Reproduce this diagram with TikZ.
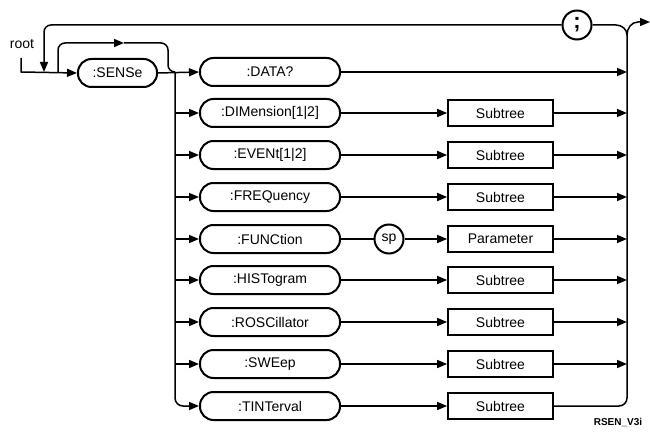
\documentclass[tikz,border=0pt]{standalone}
\usepackage{fontspec}
\setmainfont{Liberation Sans}
\usetikzlibrary{arrows.meta}
\begin{document}
\begin{tikzpicture}[x=1pt,y=-1pt,
  line width=1.5pt,
  txt/.style={font=\fontsize{14}{16}\selectfont},
  pill/.style={draw, line width=2pt, rounded corners=13.5pt, minimum width=140pt, minimum height=28pt, inner sep=0pt, txt},
  box/.style={draw, line width=1.7pt, minimum width=105pt, minimum height=26pt, inner sep=0pt, txt},
  circ/.style={draw, circle, line width=2pt, minimum size=29pt, inner sep=0pt, txt},
  arr/.style={-{Triangle[length=10pt,width=8pt]}},
  ]
\useasboundingbox (0,0) rectangle (650,441);

% labels
\node[txt, anchor=center] (root) at (22,44) {root};
\node[font=\bfseries\fontsize{10}{12}\selectfont] (fig) at (618,422) {RSEN\_V3i};

% header
\node[pill, minimum width=79pt] (sense) at (117.5,73) {:SENSe};
\node[circ, font=\bfseries\fontsize{22}{22}\selectfont] (semi) at (577,25) {;};

% coordinates
\coordinate (rt) at (21,58);
\coordinate (rc) at (21,72);
\coordinate (la) at (44,25);
\coordinate (lb) at (44,72);
\coordinate (ma) at (58,72);
\coordinate (mb) at (58,43);
\coordinate (mm) at (124,43);
\coordinate (mc) at (168,43);
\coordinate (md) at (168,72);
\coordinate (bl) at (175,72);
\coordinate (blb) at (175,406);
\coordinate (brt) at (627,35);
\coordinate (brb) at (627,406);
\coordinate (sj) at (616,25);
\coordinate (oj) at (638,22);
\coordinate (out) at (650,22);

% rows
\node[pill] (data) at (270,72) {:DATA?};
\node[pill] (dim) at (270,113) {:DIMension[1|2]};
\node[pill] (evt) at (270,155) {:EVENt[1|2]};
\node[pill] (freq) at (270,197) {:FREQuency};
\node[pill] (func) at (270,239) {:FUNCtion};
\node[pill] (hist) at (270,280) {:HISTogram};
\node[pill] (rosc) at (270,322) {:ROSCillator};
\node[pill] (swe) at (270,364) {:SWEep};
\node[pill] (tint) at (270,406) {:TINTerval};

\node[box] (sdim) at (500.5,113) {Subtree};
\node[box] (sevt) at (500.5,155) {Subtree};
\node[box] (sfreq) at (500.5,197) {Subtree};
\node[circ] (sp) at (389,239) {sp};
\node[box] (par) at (500.5,239) {Parameter};
\node[box] (shist) at (500.5,280) {Subtree};
\node[box] (srosc) at (500.5,322) {Subtree};
\node[box] (sswe) at (500.5,364) {Subtree};
\node[box] (stint) at (500.5,406) {Subtree};

% entry
\draw[arr] (rt) -- (rc) -- (sense.west);
\draw[arr, rounded corners=7pt] (semi.west) -- (la) -- (lb);
\draw[rounded corners=7pt, arr] (ma) -- (mb) -- (mm);
\draw[rounded corners=7pt] (mm) -- (mc) -- (md) -- (bl);

% left bus
\draw[arr] (sense.east) -- (data.west);
\draw[arr, rounded corners=8pt] (bl) -- (blb) -- (tint.west);
\foreach \n in {dim,evt,freq,func,hist,rosc,swe}
  \draw[arr] (bl |- \n.west) -- (\n.west);

% middle
\foreach \a/\b in {dim/sdim,evt/sevt,freq/sfreq,hist/shist,rosc/srosc,swe/sswe,tint/stint}
  \draw[arr] (\a.east) -- (\b.west);
\draw (func.east) -- (sp.west);
\draw[arr] (sp.east) -- (par.west);

% right bus
\draw[arr] (data.east) -- (brt |- data.east);
\foreach \n in {sdim,sevt,sfreq,par,shist,srosc,sswe}
  \draw[arr] (\n.east) -- (brt |- \n.east);
\draw[rounded corners=8pt] (stint.east) -- (brb) -- (brt);
\draw (semi.east) -- (sj) to[out=0,in=90] (brt);
\draw[arr] (brt) to[out=90,in=180] (oj) -- (out);
\end{tikzpicture}
\end{document}
